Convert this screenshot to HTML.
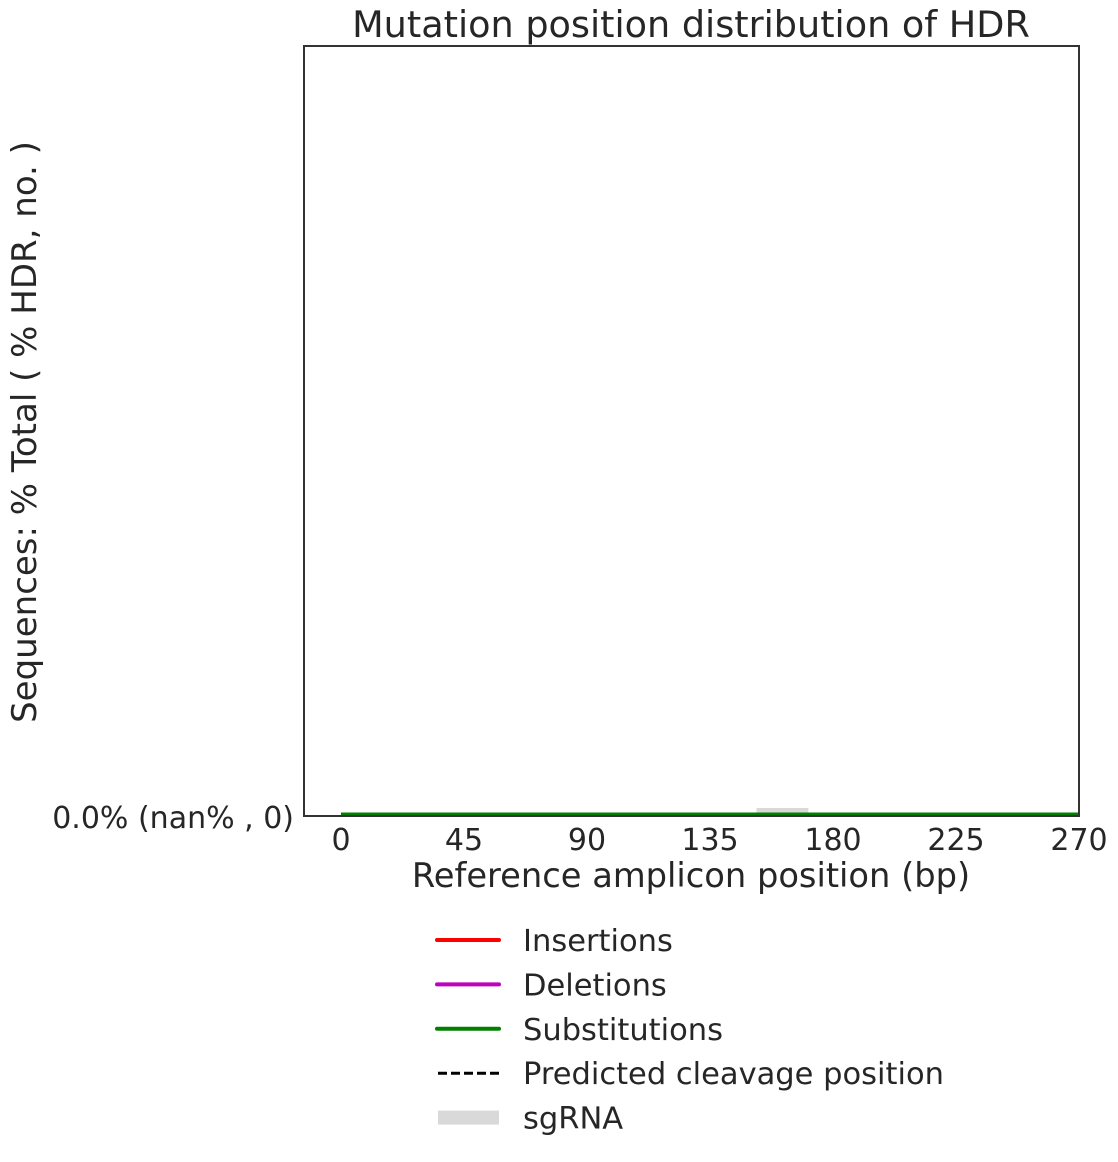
<!DOCTYPE html>
<html><head><meta charset="utf-8">
<style>
body{margin:0;background:#fff;}
svg text{font-family:"DejaVu Sans","Liberation Sans",sans-serif;fill:#262626;}
</style></head>
<body>
<svg id="chart" width="1118" height="1157" xmlns="http://www.w3.org/2000/svg">
<text x="691" y="37" font-size="36.6" text-anchor="middle">Mutation position distribution of HDR</text>
<g id="plot"></g>
<text transform="translate(36,432) rotate(-90)" font-size="34" text-anchor="middle">Sequences: % Total ( % HDR, no. )</text>
<text x="691" y="887" font-size="33.7" text-anchor="middle">Reference amplicon position (bp)</text>
<g id="legend"></g>
</svg>
<script>
const xTicks = [0,45,90,135,180,225,270];
const yTickLabels = ["0.0% (nan% , 0)"];
const insertions = [0,0];
const deletions = [0,0];
const substitutions = [0,0];
const seriesPositions = [0,270];
const sgRNA = [152,171];
const legendLabels = ["Insertions","Deletions","Substitutions","Predicted cleavage position","sgRNA"];

const NS="http://www.w3.org/2000/svg";
const L=304,R=1079,T=46,B=816;
const xs=v=>341+(v-0)*(1079-341)/270;
const ys=v=>B-2-v*700;
const plot=document.getElementById('plot');
function mk(tag,attrs,parent){const e=document.createElementNS(NS,tag);for(const k in attrs)e.setAttribute(k,attrs[k]);(parent||plot).appendChild(e);return e;}

const sg=mk('rect',{x:xs(sgRNA[0]),y:B-8,width:xs(sgRNA[1])-xs(sgRNA[0]),height:7,fill:'#d9d9d9'});



function line(vals,color,name){
  const pts=vals.map((v,i)=>xs(seriesPositions[i])+','+ys(v)).join(' ');
  const p=mk('polyline',{points:pts,fill:'none',stroke:color,'stroke-width':3});
  
  
}
line(insertions,'#ff0000','insertions-line');
line(deletions,'#bf00bf','deletions-line');
line(substitutions,'#008000','substitutions-line');

const frame=mk('rect',{x:L,y:T,width:R-L,height:B-T,fill:'none',stroke:'#333','stroke-width':2});



xTicks.forEach(t=>{
  const tx=mk('text',{x:xs(t),y:850,'font-size':30,'text-anchor':'middle'});
  tx.textContent=t;
  
  
});
yTickLabels.forEach(lbl=>{
  const ty=mk('text',{x:294,y:828,'font-size':30,'text-anchor':'end'});
  ty.textContent=lbl;
  
  
});

const leg=document.getElementById('legend');
const colors=['#ff0000','#bf00bf','#008000','#000','#d9d9d9'];
legendLabels.forEach((lbl,i)=>{
  const y=940+i*44.4;
  let s;
  if(i<3) s=mk('line',{x1:437,x2:499,y1:y,y2:y,stroke:colors[i],'stroke-width':4,'stroke-linecap':'round'},leg);
  else if(i===3) s=mk('line',{x1:438,x2:499,y1:y,y2:y,stroke:'#000','stroke-width':3,'stroke-dasharray':'9 4'},leg);
  else s=mk('rect',{x:438,y:y-7,width:61,height:14,fill:'#d9d9d9'},leg);
  
  
  const t=mk('text',{x:523,y:y+11,'font-size':30.5},leg);
  t.textContent=lbl;
  
  
});
</script>
</body></html>
